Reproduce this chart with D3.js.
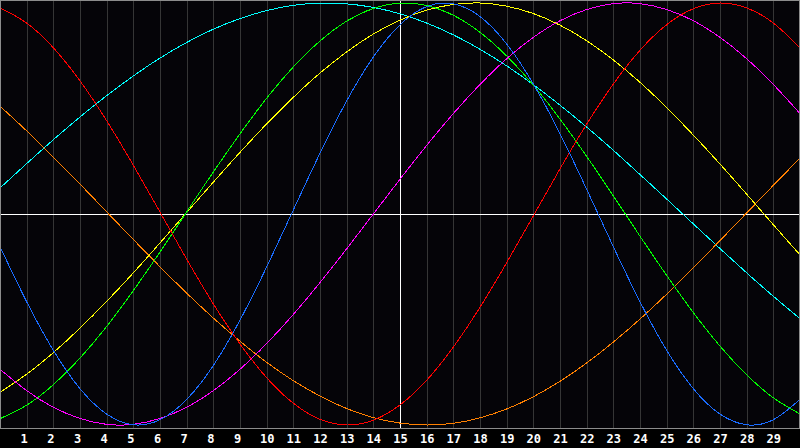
<!DOCTYPE html>
<html>
<head>
<meta charset="utf-8">
<script src="https://cdn.jsdelivr.net/npm/d3@7"></script>
<style>
  html, body { margin: 0; padding: 0; background: #000; }
  svg { display: block; }
  .day-label { font-family: "DejaVu Sans Mono", monospace; font-weight: bold; font-size: 12px; fill: #fff; }
</style>
</head>
<body>
<div class="chart"></div>
<script>
// Biorhythm style chart: seven cycles over a 30 day window

// Day positions (0 = left edge, 30 = right edge) and the tick labels
var days = d3.range(0, 31);
var tickLabels = ["1","2","3","4","5","6","7","8","9","10","11","12","13","14","15",
                  "16","17","18","19","20","21","22","23","24","25","26","27","28","29"];
var todayIndex = 15; // white vertical marker

// Values, one per day (-1 .. 1)
var physical = [-0.155,-0.416,-0.646,-0.828,-0.948,-0.999,-0.975,-0.879,-0.718,-0.503,-0.251,
                0.019,0.288,0.536,0.744,0.897,0.983,0.996,0.936,0.806,0.616,0.381,0.117,
                -0.155,-0.416,-0.646,-0.828,-0.948,-0.999,-0.975,-0.879];
var emotional = [0.977,0.905,0.788,0.631,0.442,0.231,0.009,-0.214,-0.426,-0.616,-0.776,
                 -0.897,-0.973,-1.000,-0.977,-0.905,-0.788,-0.631,-0.442,-0.231,-0.009,
                 0.214,0.426,0.616,0.776,0.897,0.973,1.000,0.977,0.905,0.788];
var intellectual = [-0.970,-0.906,-0.809,-0.683,-0.533,-0.363,-0.180,0.010,0.199,0.380,0.549,
                    0.697,0.820,0.914,0.974,0.999,0.988,0.942,0.861,0.749,0.611,0.450,0.273,
                    0.086,-0.105,-0.291,-0.467,-0.626,-0.762,-0.871,-0.948];
var intuitive = [-0.736,-0.837,-0.916,-0.969,-0.997,-0.997,-0.969,-0.916,-0.837,-0.736,-0.614,
                 -0.476,-0.325,-0.165,0.000,0.165,0.325,0.476,0.614,0.736,0.837,0.916,0.969,
                 0.997,0.997,0.969,0.916,0.837,0.736,0.614,0.476];
var aesthetic = [-0.845,-0.759,-0.657,-0.541,-0.414,-0.279,-0.137,0.007,0.151,0.292,0.427,
                 0.553,0.668,0.768,0.853,0.919,0.966,0.993,1.000,0.985,0.950,0.895,0.821,
                 0.730,0.624,0.504,0.374,0.237,0.094,-0.051,-0.194];
var awareness = [0.511,0.394,0.270,0.142,0.010,-0.121,-0.250,-0.375,-0.493,-0.603,-0.703,
                 -0.790,-0.863,-0.922,-0.965,-0.991,-1.000,-0.992,-0.966,-0.924,-0.866,
                 -0.793,-0.706,-0.607,-0.498,-0.380,-0.255,-0.126,0.005,0.136,0.265];
var spiritual = [0.123,0.239,0.352,0.460,0.561,0.654,0.739,0.813,0.876,0.926,0.964,
                 0.989,0.999,0.996,0.979,0.949,0.905,0.849,0.781,0.702,0.613,0.516,0.412,
                 0.302,0.187,0.071,-0.047,-0.164,-0.279,-0.390,-0.496];

var seriesArray = [spiritual, awareness, aesthetic, intellectual, emotional, intuitive, physical];
var colors = ["#00ffff", "#ff8000", "#ffff00", "#00ff00", "#ff0000", "#ff00ff", "#1a6cff"];

var width = 800, height = 448, plotBottom = 428;

var svg = d3.select(".chart").append("svg")
          .attr("width", width)
          .attr("height", height);

// Scales
var x = d3.scaleLinear().domain([0, 30]).range([0, width]);
var y = d3.scaleLinear().domain([-1, 1]).range([425, 3]);

// Background
svg.append("rect")
    .attr("width", width)
    .attr("height", height)
    .style("fill", "#000");

svg.append("rect")
    .attr("x", 0)
    .attr("y", 0)
    .attr("width", width)
    .attr("height", plotBottom)
    .style("fill", "#050408");

// Day grid lines
svg.selectAll("line.grid")
    .data(tickLabels)
    .enter().append("line")
          .attr("class", "grid")
          .attr("x1", function(d, i) {return Math.round(x(i + 1)) + 0.5})
          .attr("x2", function(d, i) {return Math.round(x(i + 1)) + 0.5})
          .attr("y1", 0)
          .attr("y2", plotBottom)
          .style("stroke", "#353535")
          .style("stroke-width", 1)
          .style("shape-rendering", "crispEdges");

// Zero line and today marker
svg.append("line")
    .attr("x1", 0).attr("x2", width)
    .attr("y1", Math.round(y(0)) + 0.5).attr("y2", Math.round(y(0)) + 0.5)
    .style("stroke", "#ffffff")
    .style("shape-rendering", "crispEdges");

svg.append("line")
    .attr("x1", Math.round(x(todayIndex)) + 0.5).attr("x2", Math.round(x(todayIndex)) + 0.5)
    .attr("y1", 0).attr("y2", plotBottom)
    .style("stroke", "#ffffff")
    .style("shape-rendering", "crispEdges");

// Curves (aliased 1px, like the original)
var line = d3.line()
    .x(function(d, i) {return x(days[i])})
    .y(function(d) {return y(d)})
    .curve(d3.curveNatural);

svg.selectAll("path.cycle")
    .data(seriesArray)
    .enter().append("path")
          .attr("class", "cycle")
          .attr("d", line)
          .style("fill", "none")
          .style("stroke", function(d, i) {return colors[i]})
          .style("stroke-width", 1)
          .style("shape-rendering", "crispEdges");

// Frame round the plot
svg.append("rect")
    .attr("x", 0.5)
    .attr("y", 0.5)
    .attr("width", width - 1)
    .attr("height", plotBottom - 0.5)
    .style("fill", "none")
    .style("stroke", "#8c8c8c")
    .style("shape-rendering", "crispEdges");

// Day labels under the grid
svg.selectAll("text.day-label")
    .data(tickLabels)
    .enter().append("text")
    .text(function(d) {return d})
          .attr("class", "day-label")
          .attr("x", function(d, i) {return x(i + 1)})
          .attr("y", 443)
          .attr("text-anchor", "middle")
          .attr("dx", function(d) {return d.length > 1 ? 0.5 : -2.5});
</script>
</body>
</html>
